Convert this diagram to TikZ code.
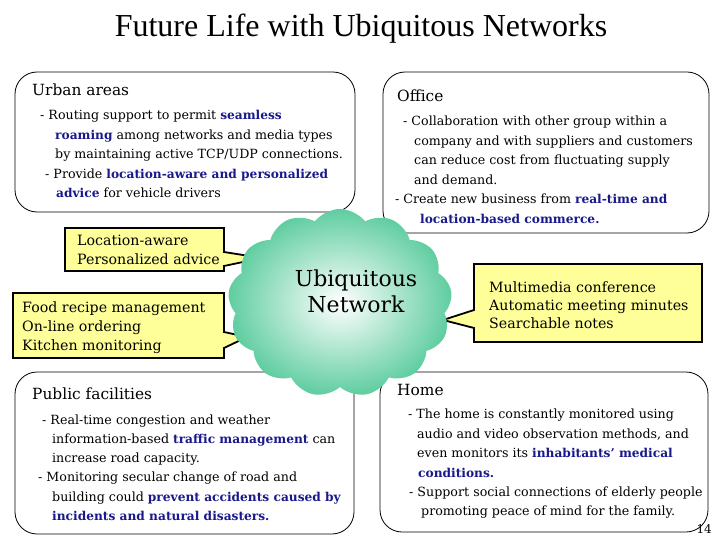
\documentclass[tikz,border=0pt]{standalone}
\usepackage{fontspec}
\setmainfont{DejaVu Serif}
\newfontfamily\titlefont{Liberation Serif}
\usetikzlibrary{shapes.symbols}
\definecolor{navyblue}{RGB}{25,25,140}
\definecolor{callyellow}{RGB}{255,255,153}
\definecolor{cloudgreen}{RGB}{95,205,160}
\newcommand\hlt[1]{{\fontsize{12.2}{15}\selectfont\textcolor{navyblue}{\textbf{#1}}}}
\begin{document}
\begin{tikzpicture}[x=1pt,y=-1pt,
  boxframe/.style={draw=black, line width=0.8pt, rounded corners=22pt, fill=white},
  boxtitle/.style={anchor=base west, inner sep=0, font=\fontsize{15.4}{18}\selectfont},
  bodyline/.style={anchor=base west, inner sep=0, font=\fontsize{12.65}{15}\selectfont},
  callout/.style={draw=black, line width=1.8pt, fill=callyellow, line join=miter},
  calltext/.style={anchor=base west, inner sep=0, font=\fontsize{14.2}{16}\selectfont}]
\useasboundingbox (0,0) rectangle (720,540);
% title
\node[anchor=base, inner sep=0, font=\titlefont\fontsize{32}{36}\selectfont] (title) at (361,37) {Future Life with Ubiquitous Networks};
% frames
\draw[boxframe] (15,72) rectangle (355,212);
\draw[boxframe] (383,72) rectangle (709,233);
\draw[boxframe] (15,372) rectangle (354,534);
\draw[boxframe] (380,372) rectangle (708,532);
% callouts
\draw[callout] (65,228) -- (224,228) -- (224,252) -- (262,258) -- (224,266) -- (224,271) -- (65,271) -- cycle;
\draw[callout] (13,293) -- (224,293) -- (224,332) -- (247,337) -- (224,348) -- (224,358) -- (13,358) -- cycle;
\draw[callout] (474,264) -- (702,264) -- (702,342) -- (474,342) -- (474,328) -- (443,320) -- (474,310) -- cycle;
% cloud
\node[cloud, cloud puffs=13, cloud puff arc=105, aspect=1.18, minimum width=224pt, minimum height=188pt, inner sep=0, inner color=white, outer color=cloudgreen] (cloud) at (340,303) {};
\node[anchor=base, inner sep=0, font=\fontsize{22}{25}\selectfont] (ub1) at (356,286) {Ubiquitous};
\node[anchor=base, inner sep=0, font=\fontsize{22}{25}\selectfont] (ub2) at (356,312) {Network};
% urban
\node[boxtitle] (ut) at (32,96) {Urban areas};
\node[bodyline] (u1) at (40,120) {- Routing support to permit \hlt{seamless}};
\node[bodyline] (u2) at (55,139.5) {\hlt{roaming} among networks and media types};
\node[bodyline] (u3) at (55,159) {by maintaining active TCP/UDP connections.};
\node[bodyline] (u4) at (45,178.5) {- Provide \hlt{location-aware and personalized}};
\node[bodyline] (u5) at (56,198) {\hlt{advice} for vehicle drivers};
% office
\node[boxtitle] (ot) at (397,102) {Office};
\node[bodyline] (o1) at (403,126) {- Collaboration with other group within a};
\node[bodyline] (o2) at (414,145.5) {company and with suppliers and customers};
\node[bodyline] (o3) at (414,165) {can reduce cost from fluctuating supply};
\node[bodyline] (o4) at (414,184.5) {and demand.};
\node[bodyline] (o5) at (395,204) {- Create new business from \hlt{real-time and}};
\node[bodyline] (o6) at (420,223.5) {\hlt{location-based commerce.}};
% public
\node[boxtitle] (pt) at (32,399) {Public facilities};
\node[bodyline] (p1) at (42,424.5) {- Real-time congestion and weather};
\node[bodyline] (p2) at (52,443) {information-based \hlt{traffic management} can};
\node[bodyline] (p3) at (52,462) {increase road capacity.};
\node[bodyline] (p4) at (38,481.5) {- Monitoring secular change of road and};
\node[bodyline] (p5) at (52,501) {building could \hlt{prevent accidents caused by}};
\node[bodyline] (p6) at (52,520) {\hlt{incidents and natural disasters.}};
% home
\node[boxtitle] (ht) at (397,395) {Home};
\node[bodyline] (h1) at (408,418.5) {- The home is constantly monitored using};
\node[bodyline] (h2) at (417,438) {audio and video observation methods, and};
\node[bodyline] (h3) at (417,457.5) {even monitors its \hlt{inhabitants' medical}};
\node[bodyline] (h4) at (418,477) {\hlt{conditions.}};
\node[bodyline] (h5) at (409,496.5) {- Support social connections of elderly people};
\node[bodyline] (h6) at (421,515.5) {promoting peace of mind for the family.};
% callout texts
\node[calltext] (c1) at (77,245) {Location-aware};
\node[calltext] (c2) at (77,264.5) {Personalized advice};
\node[calltext] (c3) at (22,312) {Food recipe management};
\node[calltext] (c4) at (22,331) {On-line ordering};
\node[calltext] (c5) at (22,350) {Kitchen monitoring};
\node[calltext] (c6) at (489,292) {Multimedia conference};
\node[calltext] (c7) at (489,310) {Automatic meeting minutes};
\node[calltext] (c8) at (489,328) {Searchable notes};
% page number
\node[anchor=base east, inner sep=0, font=\fontsize{12}{14}\selectfont] (pg) at (712,533) {14};
\end{tikzpicture}
\end{document}
